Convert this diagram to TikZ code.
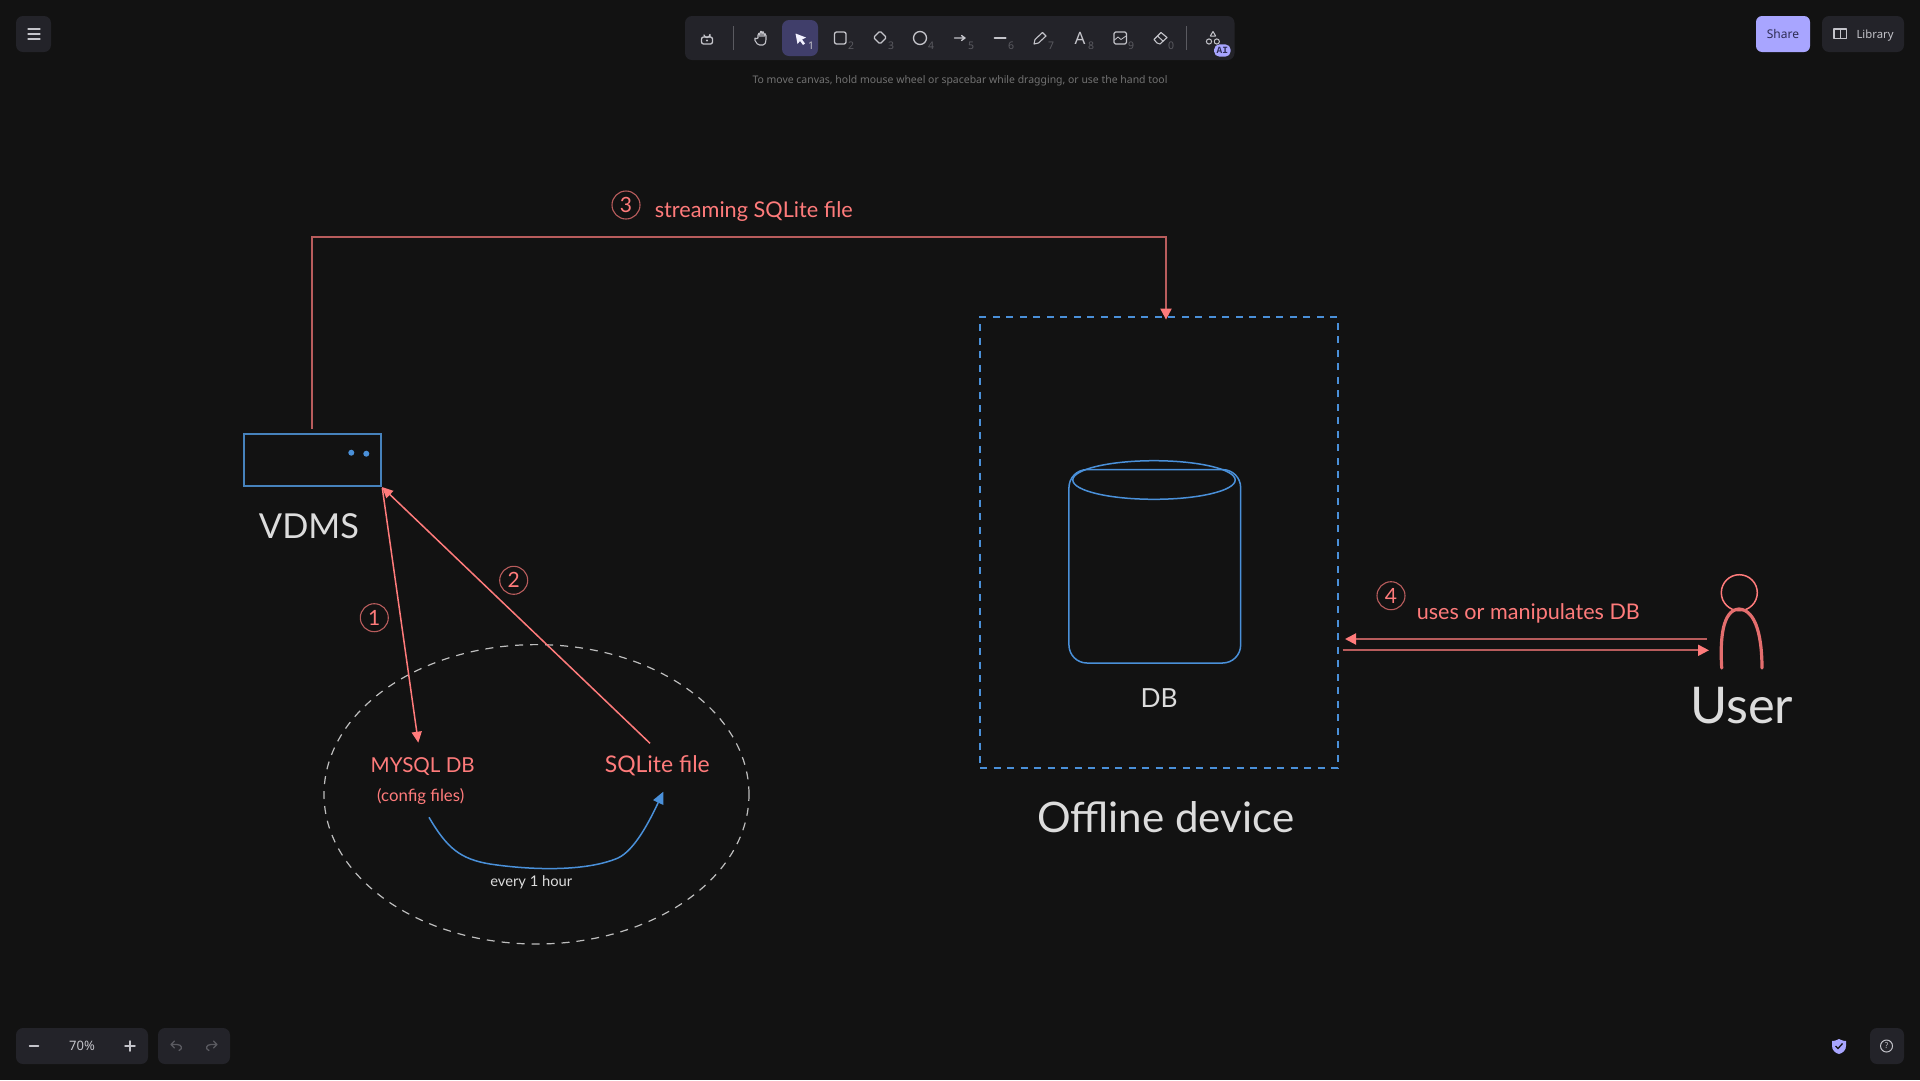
\documentclass[tikz,border=0pt]{standalone}
\usepackage{fontspec}
\usepackage{graphicx}
\setmainfont{Lato}
\newfontfamily\uifont{Noto Sans}
\newfontfamily\monoui{Liberation Mono}
\usetikzlibrary{arrows.meta,shapes.geometric}
\definecolor{bgc}{HTML}{121212}
\definecolor{panel}{HTML}{232329}
\definecolor{selc}{HTML}{403E6A}
\definecolor{iconc}{HTML}{C4C4CA}
\definecolor{numc}{HTML}{5A5A60}
\definecolor{hintc}{HTML}{727272}
\definecolor{lav}{HTML}{A8A5FF}
\definecolor{darkink}{HTML}{2E2D55}
\definecolor{redb}{HTML}{FF7B7B}
\definecolor{redd}{HTML}{B85C5C}
\definecolor{redm}{HTML}{E46E6E}
\definecolor{blu}{HTML}{4A90D9}
\definecolor{blud}{HTML}{4682BC}
\definecolor{txt}{HTML}{DCDCDC}
\definecolor{dashg}{HTML}{BEBEBE}
\newcommand{\fitw}[2]{\resizebox{#1pt}{!}{#2}}
\tikzset{
  x=1pt,y=-1pt,
  lab/.style={inner sep=0pt,outer sep=0pt},
  redlab/.style={lab,text=redb},
  whitelab/.style={lab,text=txt},
  numcirc/.style={circle,draw=redd,line width=1.1pt,minimum size=28pt,inner sep=0pt,outer sep=0pt,text=redb,font=\fontsize{21}{21}\selectfont},
  redarrow/.style={draw=redb,line width=1.5pt,-{Triangle[length=11pt,width=10pt,color=redb]}},
  dimarrow/.style={draw=redd,line width=2pt,-{Triangle[length=11pt,width=11pt,color=redb]}},
  blueline/.style={draw=blu,line width=1.5pt},
  panelbox/.style={fill=panel,rounded corners=7pt,draw=none},
  ic/.style={draw=iconc,line width=1.3pt,line cap=round,line join=round},
  kn/.style={lab,text=numc,font=\uifont\fontsize{10.5}{10.5}\selectfont},
  ui/.style={lab,font=\uifont\fontsize{12}{12}\selectfont},
}
\begin{document}
\begin{tikzpicture}
\useasboundingbox (0,0) rectangle (1920,1080);
\fill[bgc] (0,0) rectangle (1920,1080);

% ---- UI chrome ----
\fill[panelbox] (16,16) rectangle (51,52);
\foreach \yy in {29,34,39} \draw[ic] (28,\yy) -- (40,\yy);

\fill[panelbox] (685,16) rectangle (1234.5,60);
\fill[selc,rounded corners=7pt] (782,20) rectangle (818,56);
\draw[numc,line width=.8pt] (733.5,26) -- (733.5,50);
\draw[numc,line width=.8pt] (1186,26) -- (1186,50);
% lock
\draw[ic,rounded corners=2pt] (701.5,37) rectangle (712.5,44);
\draw[ic] (710,37) -- (710,34.5) arc[start angle=0,end angle=170,radius=3];
\fill[iconc] (707,40.5) circle[radius=1.2];
% hand
\draw[ic,shift={(17,0)},rounded corners=1.5pt,line width=1.1pt] (741,45) -- (737,39) -- (739,37.5) -- (741,39.5) -- (741,33.5) -- (743,33.5) -- (743,38) -- (743,31.5) -- (745,31.5) -- (745,38) -- (745,32) -- (747,32) -- (747,38) -- (747,34) -- (749,34) -- (749,41) -- (747.5,45) -- cycle;
% cursor
\fill[white!85!lav,shift={(21,0)}] (774.5,33.5) -- (785,37.5) -- (781,39.5) -- (784,43.5) -- (782,45) -- (779,41) -- (776.5,44) -- cycle;
\node[kn,text=iconc] at (811,46) {1};
% rect
\draw[ic,rounded corners=2pt] (834.5,32) rectangle (846,44);
\node[kn] at (851,46) {2};
% diamond
\draw[ic,rounded corners=1.5pt] (880,31) -- (886.5,37.5) -- (880,44) -- (873.5,37.5) -- cycle;
\node[kn] at (891,46) {3};
% circle
\draw[ic] (920,38) circle[radius=6.5];
\node[kn] at (931,46) {4};
% arrow
\draw[ic] (954.6,38) -- (965,38) (961.5,35.5) -- (965,38) -- (961.5,40.5);
\node[kn] at (971,46) {5};
% line
\draw[ic,line width=1.8pt] (994.5,38) -- (1005.6,38);
\node[kn] at (1011,46) {6};
% pencil
\draw[ic,line width=1.1pt] (1034,44) -- (1035,39.5) -- (1042.5,32.5) -- (1046,36) -- (1038.5,43) -- cycle;
\node[kn] at (1051,46) {7};
% A
\node[lab,text=iconc,font=\uifont\fontsize{17}{17}\selectfont] at (1080,38) {A};
\node[kn] at (1091,46) {8};
% image
\draw[ic,rounded corners=1.5pt,line width=1.1pt] (1114,32) rectangle (1126.5,44);
\draw[ic,line width=.8pt] (1114.5,40) -- (1118,37) -- (1121,39.5) -- (1126,36);
\node[kn] at (1131,46) {9};
% eraser
\draw[ic,line width=1.1pt] (1154,39.5) -- (1161,32.5) -- (1167,37.5) -- (1160,44) -- (1157,43) -- cycle;
\draw[ic,line width=1pt] (1157.5,36) -- (1163,41);
\node[kn] at (1171,46) {0};
% shapes + badge
\draw[ic,line width=1pt] (1213,31.5) -- (1215.7,36) -- (1210.3,36) -- cycle;
\draw[ic,line width=1pt] (1209,41.5) circle[radius=2.6] (1216.8,41.5) circle[radius=2.6];
\fill[lav,rounded corners=5.5pt] (1214,44.3) rectangle (1230.7,56.7);
\node (ailab) [lab,text=darkink,font=\monoui\bfseries\fontsize{9.5}{9.5}\selectfont] at (1222.3,50.5) {AI};

\node (hint) [ui,text=hintc] at (960,81) {\fitw{415}{To move canvas, hold mouse wheel or spacebar while dragging, or use the hand tool}};

\fill[lav,rounded corners=6pt] (1756,16) rectangle (1810,52);
\node (share) [ui,text=darkink] at (1783,34) {Share};
\fill[panelbox] (1822,16) rectangle (1904,52);
\draw[iconc,line width=1.1pt,line join=round] (1834,29) rectangle (1846.5,38.5) (1840.2,29) -- (1840.2,38.5);
\node (library) [ui,text=iconc] at (1875,35.5) {\fitw{37}{Library}};

\fill[panelbox] (16,1028) rectangle (148,1064);
\draw[ic,line width=1.5pt] (29.5,1046) -- (38.5,1046);
\draw[ic,line width=1.5pt] (125,1046) -- (135,1046) (130,1041) -- (130,1051);
\node (zoomlab) [ui,text=iconc,font=\uifont\fontsize{13}{13}\selectfont] at (82,1046) {70\%};
\fill[panelbox] (158,1028) rectangle (230,1064);
\draw[numc,line width=1.3pt,line cap=round,line join=round] (174.5,1041) -- (171,1044.5) -- (174.5,1048) (171,1044.5) -- (177,1044.5) .. controls (182,1044.5) and (183,1049) .. (179,1050.5);
\draw[numc,line width=1.3pt,line cap=round,line join=round] (213.5,1041) -- (217,1044.5) -- (213.5,1048) (217,1044.5) -- (211,1044.5) .. controls (206,1044.5) and (205,1049) .. (209,1050.5);
\fill[lav] (1839,1039) .. controls (1835,1041) and (1833,1041) .. (1832,1041) -- (1832,1046) .. controls (1832,1050) and (1835,1053) .. (1839,1054) .. controls (1843,1053) and (1846,1050) .. (1846,1046) -- (1846,1041) .. controls (1845,1041) and (1843,1041) .. (1839,1039) -- cycle;
\draw[bgc,line width=1.3pt] (1835.5,1046) -- (1838,1048.5) -- (1842.5,1043.5);
\fill[panelbox] (1870,1028) rectangle (1904,1064);
\draw[ic,line width=1pt] (1886.5,1046) circle[radius=6];
\node (helplab) [lab,text=iconc,font=\uifont\fontsize{8}{8}\selectfont] at (1886.5,1046) {?};

% ---- diagram nodes ----
\node (vdms) [draw=blud,line width=2pt,minimum width=137.6pt,minimum height=52.3pt,inner sep=0,outer sep=0] at (312.5,460) {};
\fill[blu] (351.3,452.7) circle[radius=3] (366.3,453.7) circle[radius=3];
\node (vdmstxt) [whitelab] at (309,526) {\fitw{100}{VDMS}};

\node (cluster) [ellipse,draw=dashg,line width=1.2pt,dash pattern=on 8pt off 7pt,minimum width=425pt,minimum height=299.4pt,inner sep=0,outer sep=0] at (536.5,794.3) {};
\node (mysql) [redlab] at (422.7,767) {\fitw{104}{MYSQL DB}};
\node (config) [redlab] at (420.7,796.7) {\fitw{87}{(config files)}};
\node (sqlite) [redlab] at (657.3,766) {\fitw{105}{SQLite file}};
\node (hour) [whitelab] at (531.3,882) {\fitw{82}{every 1 hour}};

\node (offline) [draw=blu,line width=2pt,dash pattern=on 7pt off 6.5pt,minimum width=358pt,minimum height=451.2pt,inner sep=0,outer sep=0] at (1159,542.4) {};
\node (cyl) [draw=blu,line width=1.5pt,rounded corners=18pt,minimum width=171.7pt,minimum height=193.4pt,inner sep=0,outer sep=0] at (1154.8,566.3) {};
\node (cyltop) [ellipse,draw=blu,line width=1.5pt,minimum width=162.4pt,minimum height=38.6pt,inner sep=0,outer sep=0] at (1154,480) {};
\node (dbtxt) [whitelab] at (1159,698) {\fitw{37}{DB}};
\node (offtxt) [whitelab] at (1165.7,817) {\fitw{257}{Offline device}};

\node (head) [circle,draw=redb,line width=1.5pt,minimum size=36pt,inner sep=0,outer sep=0] at (1739.3,592.7) {};
\node (usertxt) [whitelab] at (1741.7,706) {\fitw{103}{User}};
\coordinate (bodyl) at (1721.7,668);
\coordinate (bodyr) at (1762,668);
\coordinate (bodyt) at (1739,609);
\draw[redm,line width=3.2pt,line cap=round] (bodyl) .. controls (1720,640) and (1722,610) .. (bodyt) .. controls (1757,610) and (1762,640) .. (bodyr);

\node (n1) [numcirc] at (374.3,617.7) {1};
\node (n2) [numcirc] at (513.7,580.3) {2};
\node (n3) [numcirc] at (626,205) {3};
\node (n4) [numcirc] at (1391,595.7) {4};
\node (stream) [redlab] at (753.8,211) {\fitw{198}{streaming SQLite file}};
\node (uses) [redlab] at (1528.3,613.5) {\fitw{223}{uses or manipulates DB}};

% ---- connectors ----
\coordinate (a1s) at (382.3,488);
\coordinate (a1e) at (418.3,742.7);
\draw[redarrow] (a1s) -- (a1e);
\coordinate (a2s) at (650,743.3);
\coordinate (a2e) at (382,487);
\draw[redarrow] (a2s) -- (a2e);

\coordinate (a3s) at (312,429);
\coordinate (a3m) at (1166,237);
\coordinate (a3e) at (1166,319.6);
\draw[dimarrow] (a3s) |- (a3m) -- (a3e);

\coordinate (u1s) at (1706.7,639);
\coordinate (u1e) at (1345,639);
\draw[dimarrow] (u1s) -- (u1e);
\coordinate (u2s) at (1342.7,650.3);
\coordinate (u2e) at (1709,650.3);
\draw[dimarrow] (u2s) -- (u2e);

\coordinate (c1) at (429,817.3);
\coordinate (c2) at (663.3,791.7);
\draw[blueline,-{Triangle[length=12pt,width=11pt,color=blu]}] (c1) .. controls (447,848) and (460,859) .. (490,864) .. controls (530,870) and (585,872) .. (618,858) .. controls (635,850) and (650,820) .. (c2);
\end{tikzpicture}
\end{document}
